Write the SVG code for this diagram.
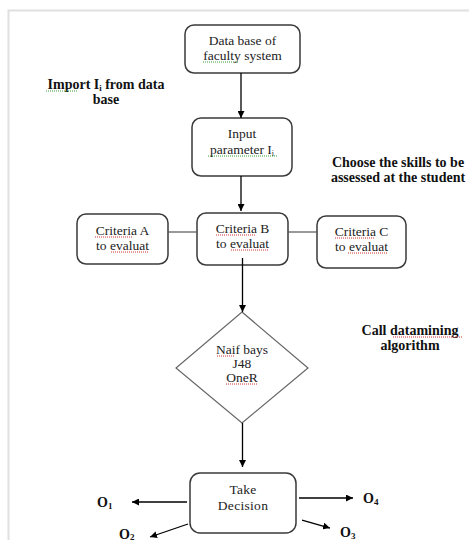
<svg xmlns="http://www.w3.org/2000/svg" width="469" height="540" viewBox="0 0 469 540">
<defs>
<marker id="ah" viewBox="0 0 10 10" refX="10" refY="5" markerWidth="7" markerHeight="7" markerUnits="userSpaceOnUse" orient="auto"><path d="M0,0 L10,5 L0,10 z" fill="#000"/></marker>
<style>
.box{fill:#fff;stroke:#3a3a3a;stroke-width:1.5}
.dia{fill:#fff;stroke:#666;stroke-width:1.2}
.t{font-family:"Liberation Serif",serif;font-size:13.5px;fill:#222;text-anchor:middle}
.b{font-family:"Liberation Serif",serif;font-size:14px;font-weight:bold;fill:#111;text-anchor:middle}
.o{font-family:"Liberation Serif",serif;font-size:14px;font-weight:bold;fill:#111}
.ln{stroke:#000;stroke-width:1.3;fill:none}
.cn{stroke:#555;stroke-width:1.2;fill:none}
.frame{stroke:#e0e0e0;stroke-width:2;fill:none}
.sg{stroke:#3c9a3c;stroke-width:1;stroke-dasharray:1 1;fill:none}
.sr{stroke:#d03030;stroke-width:1;stroke-dasharray:1 1;fill:none}
</style>
</defs>
<rect width="469" height="540" fill="#fff"/>
<path class="frame" d="M8.5,540 V10.5 H469"/>

<g id="n-db">
<rect class="box" x="185" y="25" width="115" height="48" rx="9"/>
<text class="t" x="242.5" y="44.5">Data base of</text>
<text class="t" x="242.5" y="59.5">faculty system</text>
</g>
<g id="n-input">
<rect class="box" x="192" y="118" width="100" height="58" rx="9"/>
<text class="t" x="242" y="137.5">Input</text>
<text class="t" x="242" y="153.5">parameter  I<tspan font-size="8" dy="2">i</tspan></text>
</g>
<g id="n-critA">
<rect class="box" x="77" y="214" width="91" height="50" rx="9"/>
<text class="t" x="122.5" y="234.5">Criteria A</text>
<text class="t" x="122.5" y="249.5">to evaluat</text>
</g>
<g id="n-critB">
<rect class="box" x="197" y="213" width="91" height="52" rx="9"/>
<text class="t" x="242.5" y="232.5">Criteria B</text>
<text class="t" x="242.5" y="247.5">to evaluat</text>
</g>
<g id="n-critC">
<rect class="box" x="317" y="216" width="89" height="52" rx="9"/>
<text class="t" x="361.5" y="235.5">Criteria C</text>
<text class="t" x="361.5" y="250.5">to evaluat</text>
</g>
<g id="n-algo">
<polygon class="dia" points="242,312 308,368 242,423 176,368"/>
<text class="t" x="242" y="354" font-size="13">Naif bays</text>
<text class="t" x="242" y="368" font-size="13">J48</text>
<text class="t" x="242" y="381.5" font-size="13">OneR</text>
</g>
<g id="n-decision">
<rect class="box" x="190" y="473" width="106" height="60" rx="10"/>
<text class="t" x="243" y="494" font-size="15" letter-spacing="0.3">Take</text>
<text class="t" x="243" y="510" font-size="15" letter-spacing="0.3">Decision</text>
</g>

<g id="labels">
<text class="b" x="106" y="88.5">Import  I<tspan font-size="8.5" dy="2">i</tspan><tspan dy="-2">  from data</tspan></text>
<text class="b" x="106" y="103.5">base</text>
<text class="b" x="398" y="166.5">Choose the skills to be</text>
<text class="b" x="398" y="181.5">assessed at the student</text>
<text class="b" x="410" y="334.5">Call datamining</text>
<text class="b" x="410" y="349.5">algorithm</text>
<text class="o" x="97" y="507">O<tspan font-size="9" dy="2">1</tspan></text>
<text class="o" x="119" y="539">O<tspan font-size="9" dy="1">2</tspan></text>
<text class="o" x="340" y="537">O<tspan font-size="9" dy="2">3</tspan></text>
<text class="o" x="363" y="503">O<tspan font-size="9" dy="2">4</tspan></text>
</g>

<g id="spellmarks">
<line class="sg" x1="203" y1="62" x2="238" y2="62"/>
<line class="sg" x1="46" y1="91" x2="77" y2="91"/>
<line class="sg" x1="208" y1="156" x2="277" y2="156"/>
<line class="sr" x1="95" y1="237" x2="133" y2="237"/>
<line class="sr" x1="111" y1="252" x2="149" y2="252"/>
<line class="sr" x1="216" y1="235" x2="255" y2="235"/>
<line class="sr" x1="231" y1="250" x2="269" y2="250"/>
<line class="sr" x1="335" y1="238" x2="375" y2="238"/>
<line class="sr" x1="348" y1="253" x2="388" y2="253"/>
<line class="sr" x1="217" y1="356" x2="235" y2="356"/>
<line class="sr" x1="226" y1="384" x2="258" y2="384"/>
<line class="sr" x1="393" y1="337" x2="463" y2="337"/>
</g>

<g id="connectors">
<line class="ln" x1="241" y1="73" x2="241" y2="118" marker-end="url(#ah)"/>
<line class="ln" x1="241" y1="176" x2="241" y2="211" marker-end="url(#ah)"/>
<line class="cn" x1="168" y1="232" x2="197" y2="232"/>
<line class="cn" x1="288" y1="232" x2="317" y2="232"/>
<line class="ln" x1="242.5" y1="258" x2="242.5" y2="312" marker-end="url(#ah)"/>
<line class="ln" x1="242.5" y1="423" x2="242.5" y2="467" marker-end="url(#ah)"/>
<line class="ln" x1="187" y1="502" x2="132" y2="502" marker-end="url(#ah)"/>
<line class="ln" x1="299" y1="498" x2="353" y2="498" marker-end="url(#ah)"/>
<line class="ln" x1="188" y1="524" x2="150" y2="537" marker-end="url(#ah)"/>
<line class="ln" x1="302" y1="520" x2="330" y2="528" marker-end="url(#ah)"/>
</g>
</svg>
